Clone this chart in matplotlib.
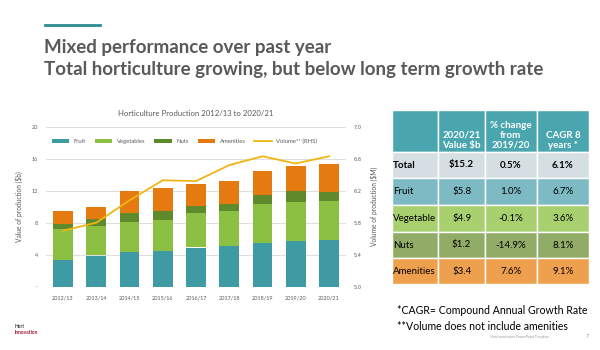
import numpy as np
import matplotlib.pyplot as plt
from matplotlib.patches import Rectangle
from matplotlib.lines import Line2D

plt.rcParams['font.family'] = ['Lato', 'DejaVu Sans']

# chart data
years = ["2012/13", "2013/14", "2014/15", "2015/16", "2016/17",
         "2017/18", "2018/19", "2019/20", "2020/21"]
fruit = [3.4, 3.9, 4.3, 4.5, 4.9, 5.1, 5.5, 5.7, 5.8]
vegetables = [3.8, 3.7, 3.8, 3.8, 4.35, 4.4, 4.8, 4.9, 4.9]
nuts = [0.6, 0.85, 1.1, 1.2, 0.85, 0.8, 1.1, 1.4, 1.2]
amenities = [1.7, 1.55, 2.7, 2.8, 2.7, 2.95, 3.05, 3.1, 3.4]
volume = [5.70, 5.80, 6.08, 6.33, 6.32, 6.52, 6.63, 6.54, 6.63]
vol_ticks = ["5.0", "5.4", "5.8", "6.2", "6.6", "7.0"]

# table data
row_names = ["Total", "Fruit", "Vegetable", "Nuts", "Amenities"]
value_2021 = ["$15.2", "$5.8", "$4.9", "$1.2", "$3.4"]
pct_change = ["0.5%", "1.0%", "-0.1%", "-14.9%", "7.6%"]
cagr = ["6.1%", "6.7%", "3.6%", "8.1%", "9.1%"]
headers = ["", "2020/21\nValue $b", "% change\nfrom\n2019/20", "CAGR 8\nyears *"]

c_fruit = "#3e9aa3"
c_veg = "#8cc043"
c_nuts = "#5e8a2c"
c_amen = "#e57a11"
c_vol = "#f0b512"
gray = "#595959"

W, H = 600, 350
fig = plt.figure(figsize=(6, 3.5), dpi=100)
fig.patch.set_facecolor("white")

def fx(px):
    return px / W

def fy(py):
    return 1 - py / H

# accent line + headline
fig.add_artist(Line2D([fx(45), fx(100)], [fy(25), fy(25)], color="#2b8d92", lw=2))
fig.text(fx(44), fy(48), "Mixed performance over past year", fontsize=13.5,
         fontweight="bold", color=gray, va="center")
fig.text(fx(44), fy(70), "Total horticulture growing, but below long term growth rate",
         fontsize=13.5, fontweight="bold", color=gray, va="center")

# stacked bar chart
ax = fig.add_axes([fx(46.4), fy(286.7), fx(345.6 - 46.4), (286.7 - 126.7) / H])
x = np.arange(len(years))
bw = 0.6
b1 = np.array(fruit)
b2 = b1 + np.array(vegetables)
b3 = b2 + np.array(nuts)
ax.bar(x, fruit, bw, color=c_fruit, label="Fruit", zorder=2)
ax.bar(x, vegetables, bw, bottom=b1, color=c_veg, label="Vegetables", zorder=2)
ax.bar(x, nuts, bw, bottom=b2, color=c_nuts, label="Nuts", zorder=2)
ax.bar(x, amenities, bw, bottom=b3, color=c_amen, label="Amenities", zorder=2)
ax.set_xlim(-0.5, len(years) - 0.5)
ax.set_ylim(0, 20)
ax.set_yticks([0, 4, 8, 12, 16, 20])
ax.set_yticklabels(["-", "4", "8", "12", "16", "20"])
ax.set_xticks(x)
ax.set_xticklabels(years)
ax.grid(axis="y", color="#d9d9d9", lw=0.6, zorder=0)
for s in ax.spines.values():
    s.set_visible(False)
ax.tick_params(length=0, labelsize=4.0, labelcolor=gray, pad=6)
ax.set_ylabel("Value of production ($b)", fontsize=4.8, color=gray, labelpad=6)
ax.set_title("Horticulture Production 2012/13 to 2020/21", fontsize=5.6,
             color=gray, pad=8)

ax2 = ax.twinx()
ax2.plot(x, volume, color=c_vol, lw=1.3, label="Volume** (RHS)")
ax2.set_ylim(5.0, 7.0)
ax2.set_yticks([float(v) for v in vol_ticks])
ax2.set_yticklabels(vol_ticks, fontfamily="DejaVu Sans")
for s in ax2.spines.values():
    s.set_visible(False)
ax2.tick_params(length=0, labelsize=3.6, labelcolor=gray, pad=6)
ax2.set_ylabel("Volume of production ($M)", fontsize=4.8, color=gray, labelpad=6)

h1, l1 = ax.get_legend_handles_labels()
h2, l2 = ax2.get_legend_handles_labels()
ax.legend(h1 + h2, l1 + l2, ncol=5, frameon=False, fontsize=4.2,
          loc="center left", bbox_to_anchor=(0.0, 0.91), handlelength=3,
          handleheight=0.6, columnspacing=1.5, labelcolor=gray)

# summary table
tx = [391.7, 438.3, 485.0, 536.7, 589.3]
ty = [110.0, 151.7, 178.3, 205.0, 231.7, 258.3, 284.0]
row_colors = ["#d5dfe3", "#7ebac3", "#a9d06f", "#91ac66", "#efa04e"]
tab = fig.add_axes([fx(tx[0]), fy(ty[-1]), fx(tx[-1] - tx[0]), (ty[-1] - ty[0]) / H])
tab.set_xlim(tx[0], tx[-1])
tab.set_ylim(ty[-1], ty[0])
tab.axis("off")

for j in range(4):
    tab.add_patch(Rectangle((tx[j], ty[0]), tx[j + 1] - tx[j], ty[1] - ty[0],
                            facecolor="#4aa6ae", edgecolor="white", lw=1))
    if headers[j]:
        tab.text((tx[j] + tx[j + 1]) / 2, ty[1] - 2, headers[j], ha="center",
                 va="bottom", fontsize=7, fontweight="bold", color="white",
                 linespacing=1.15)

for i, name in enumerate(row_names):
    cells = [name, value_2021[i], pct_change[i], cagr[i]]
    y0, y1 = ty[i + 1], ty[i + 2]
    for j, txt in enumerate(cells):
        tab.add_patch(Rectangle((tx[j], y0), tx[j + 1] - tx[j], y1 - y0,
                                facecolor=row_colors[i], edgecolor="white", lw=1))
        bold = (i == 0)
        if j == 0:
            tab.text(tx[0] + 1, (y0 + y1) / 2, txt, ha="left", va="center",
                     fontsize=7, color="black", fontweight="bold" if bold else "normal")
        else:
            tab.text((tx[j] + tx[j + 1]) / 2, (y0 + y1) / 2, txt, ha="center",
                     va="center", fontsize=7, color="black",
                     fontweight="bold" if bold else "normal")

# footnotes
fig.text(fx(397), fy(310), "*CAGR= Compound Annual Growth Rate", fontsize=7.6,
         color="black", va="center")
fig.text(fx(397), fy(327), "**Volume does not include amenities", fontsize=7.6,
         color="black", va="center")
fig.text(fx(490), fy(337), "Hort Innovation PowerPoint Template", fontsize=2.5,
         color="#999999", va="center")
fig.text(fx(586), fy(337), "7", fontsize=4, color="#999999", va="center")
fig.text(fx(15), fy(327), "Hort", fontsize=3.5, color="#444444", va="center",
         fontweight="bold")
fig.text(fx(15), fy(333), "Innovation", fontsize=3.5, color="#9b1b30",
         va="center", fontweight="bold")

fig.savefig("out.png", dpi=100)
